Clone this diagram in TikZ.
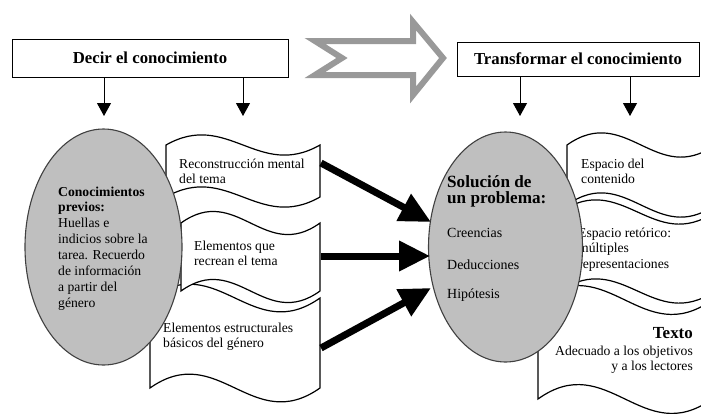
\documentclass[tikz,border=0pt]{standalone}
\usepackage{fontspec}
\setmainfont{Liberation Serif}
\usetikzlibrary{arrows.meta,shapes.geometric}

% several lines of text whose baseline is the first line
\newcommand\txtlines[2][l]{\begin{tabular}[t]{@{}#1@{}}#2\end{tabular}}

% wavy "punched tape" sheet: x0, x1, top midline, bottom midline, wave depth
\newcommand\tapesheet[5]{%
  \draw[tape] (#1,#3)
    .. controls ({#1+0.4*(#2-#1)},{#3-#5}) and ({#1+0.6*(#2-#1)},{#3+#5}) .. (#2,#3)
    -- (#2,#4)
    .. controls ({#1+0.6*(#2-#1)},{#4+#5}) and ({#1+0.4*(#2-#1)},{#4-#5}) .. (#1,#4)
    -- cycle;}

\begin{document}
\begin{tikzpicture}[x=1bp,y=-1bp,
  tape/.style={draw=black, line width=1.2bp, fill=white},
  hdr/.style={draw=black, line width=0.9bp, fill=white, inner sep=0,
    font=\fontsize{16.8}{20}\selectfont\bfseries},
  oval/.style={ellipse, draw=black!75, line width=1.1bp, fill=black!25, inner sep=0},
  body/.style={inner sep=0, anchor=base west, font=\fontsize{13.7}{16}\selectfont},
  thinarrow/.style={line width=1bp, -{Triangle[length=13bp,width=14bp]}},
  thickarrow/.style={line width=7bp, -{Triangle[length=31bp,width=29bp]}},
  hollow/.style={draw=black!40, line width=6bp, fill=white, miter limit=10}
]
\useasboundingbox (0,0) rectangle (701,413);
\fill[white] (0,0) rectangle (701,413);
\clip (0,0) rectangle (701,413);

% headers
\node[hdr, minimum width=276bp, minimum height=38bp] (hd1) at (150,58) {Decir el conocimiento};
\node[hdr, minimum width=242bp, minimum height=34bp] (hd2) at (578,59) {Transformar el conocimiento};

% hollow transition arrow
\draw[hollow] (315,41) -- (413,41) -- (413,22) -- (443,58) -- (413,95)
  -- (413,75) -- (315,75) -- (342,58) -- cycle;

% down arrows
\coordinate (d1) at (104,116);
\coordinate (d2) at (243,116);
\coordinate (d3) at (520,116);
\coordinate (d4) at (630,116);
\draw[thinarrow] (hd1.south -| d1) -- (d1);
\draw[thinarrow] (hd1.south -| d2) -- (d2);
\draw[thinarrow] (hd2.south -| d3) -- (d3);
\draw[thinarrow] (hd2.south -| d4) -- (d4);

% left sheets
\tapesheet{150}{320}{298}{388}{48}
\tapesheet{181}{320}{223}{291}{40}
\tapesheet{166}{320}{145}{197}{35}
\node[body] (s1) at (179,168) {\txtlines{Reconstrucción mental\\del tema}};
\node[body] (s2) at (194,250) {\txtlines{Elementos que\\recrean el tema}};
\node[body] (s3) at (163,332) {\txtlines{Elementos estructurales\\básicos del género}};

% right sheets
\tapesheet{538}{712}{300}{399}{50}
\tapesheet{560}{715}{212}{291}{42}
\tapesheet{567}{715}{145}{205}{42}
\node[body] (s4) at (581,168) {\txtlines{Espacio del\\contenido}};
\node[body] (s5) at (578,237) {\txtlines{Espacio retórico:\\múltiples\\representaciones}};
\node[inner sep=0, anchor=base east, font=\fontsize{17}{18}\selectfont\bfseries] (s6a) at (693,338) {Texto};
\node[body, anchor=base east] (s6b) at (693,355) {\txtlines[r]{Adecuado a los objetivos\\y a los lectores}};

% ovals
\node[oval, minimum width=157bp, minimum height=236bp] (prev) at (103.5,247) {};
\node[body] (prevtxt) at (58,196) {\txtlines{\textbf{Conocimientos}\\\textbf{previos:}\\Huellas e\\indicios sobre la\\tarea. Recuerdo\\de información\\a partir del\\género}};

\node[oval, minimum width=154bp, minimum height=230bp] (solu) at (505.5,247) {};
\node[inner sep=0, anchor=base west, font=\fontsize{17.2}{17}\selectfont\bfseries] (solutxt) at (447,187) {\txtlines{Solución de\\un problema:}};
\node[body, font=\fontsize{14}{16}\selectfont] (c1) at (447,237) {Creencias};
\node[body, font=\fontsize{14}{16}\selectfont] (c2) at (447,269) {Deducciones};
\node[body, font=\fontsize{14}{16}\selectfont] (c3) at (447,298) {Hipótesis};

% thick arrows into the problem-solving oval
\coordinate (a1) at (321,163);
\coordinate (a2) at (321,256);
\coordinate (a3) at (321,348);
\coordinate (e1) at (431,222);
\coordinate (e2) at (430,256);
\coordinate (e3) at (431,288);
\draw[thickarrow] (a1) -- (e1);
\draw[thickarrow] (a2) -- (e2);
\draw[thickarrow] (a3) -- (e3);
\end{tikzpicture}
\end{document}
